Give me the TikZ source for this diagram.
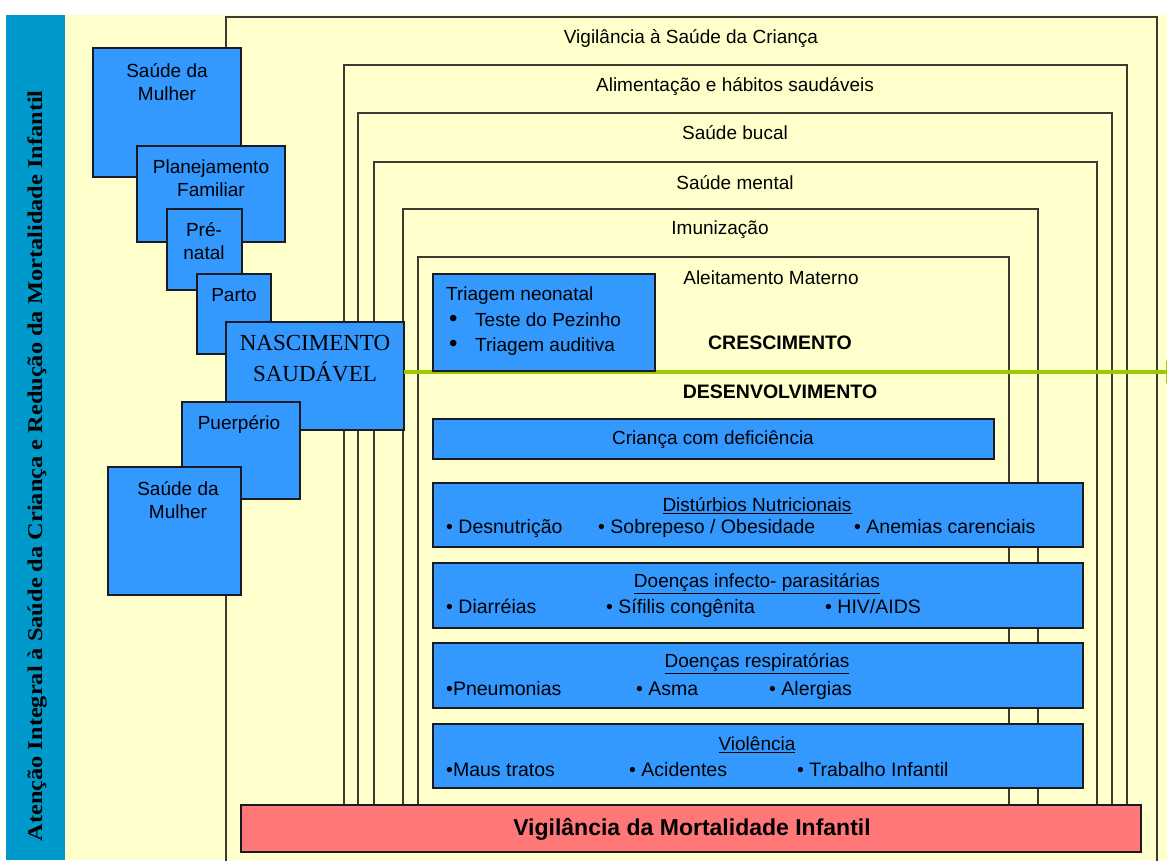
\documentclass[tikz,border=0pt]{standalone}
\usepackage{fontspec}
\setmainfont{Liberation Sans}
\newfontfamily\stripfont[FakeStretch=1.16]{Liberation Serif}
\newfontfamily\nascfont{Liberation Serif}
\usetikzlibrary{arrows.meta}
\definecolor{paper}{HTML}{FFFFCC}
\definecolor{stripblue}{HTML}{0099CC}
\definecolor{boxblue}{HTML}{3399FF}
\definecolor{alertred}{HTML}{FF7777}
\definecolor{growgreen}{HTML}{99CC00}
\definecolor{frameline}{HTML}{3A3A30}
\definecolor{boxline}{HTML}{1A1A22}
\begin{document}
\begin{tikzpicture}[x=1pt,y=-1pt,
  frame/.style={draw=frameline, line width=1.6pt, inner sep=0pt, outer sep=0pt, anchor=north west},
  bluebox/.style={draw=boxline, line width=1.5pt, fill=boxblue, inner sep=0pt, outer sep=0pt, anchor=north west},
  redbox/.style={draw=boxline, line width=1.5pt, fill=alertred, inner sep=0pt, outer sep=0pt, anchor=north west},
  lbl/.style={font=\fontsize{19}{23}\selectfont, align=center, inner sep=0pt},
  heading/.style={font=\bfseries\fontsize{19.5}{23}\selectfont, inner sep=0pt},
  item/.style={font=\fontsize{19.5}{23}\selectfont, anchor=mid west, inner sep=0pt},
  growth/.style={draw=growgreen, line width=4.5pt, -{Triangle[length=14pt,width=22pt]}}
]
\useasboundingbox (0,0) rectangle (1167,860);
\clip (0,0) rectangle (1167,860);

% background, paper area and side strip
\fill[white] (0,0) rectangle (1167,860);
\fill[paper] (65,15) rectangle (1167,860);
\fill[stripblue] (6,15) rectangle (65,860);
\node[rotate=90, anchor=base east, inner sep=0pt,
      font=\stripfont\bfseries\fontsize{21}{21}\selectfont] (striptitle) at (42,90)
  {Atenção Integral à Saúde da Criança e Redução da Mortalidade Infantil};

% nested care frames
\node[frame, minimum width=931pt, minimum height=853pt] (f0) at (226,17) {};
\node[frame, minimum width=783pt, minimum height=775pt] (f1) at (344,65) {};
\node[frame, minimum width=754pt, minimum height=727pt] (f2) at (358,113) {};
\node[frame, minimum width=723pt, minimum height=678pt] (f3) at (374,162) {};
\node[frame, minimum width=635pt, minimum height=631pt] (f4) at (403,209) {};
\node[frame, minimum width=591pt, minimum height=583pt] (f5) at (418,257) {};

\node[lbl] (f0t) at (691,39) {Vigilância à Saúde da Criança};
\node[lbl] (f1t) at (735,87) {Alimentação e hábitos saudáveis};
\node[lbl] (f2t) at (735,133) {Saúde bucal};
\node[lbl] (f3t) at (735,183) {Saúde mental};
\node[lbl] (f4t) at (720,230) {Imunização};
\node[lbl] (f5t) at (771,278) {Aleitamento Materno};
\node[heading] (cresc) at (780,343) {CRESCIMENTO};
\node[heading] (desenv) at (780,392) {DESENVOLVIMENTO};

% life-course boxes on the left
\node[bluebox, minimum width=148pt, minimum height=129pt] (sm1) at (93,48) {};
\node[lbl] (sm1t) at (167,82) {Saúde da\\Mulher};
\node[bluebox, minimum width=148pt, minimum height=96pt] (pf) at (137,146) {};
\node[lbl] (pft) at (211,178) {Planejamento\\Familiar};
\node[bluebox, minimum width=75pt, minimum height=81pt] (pn) at (167,209) {};
\node[lbl] (pnt) at (204,241) {Pré-\\natal};
\node[bluebox, minimum width=74pt, minimum height=80pt] (pa) at (197,274) {};
\node[lbl] (pat) at (234,295) {Parto};
\node[bluebox, minimum width=178pt, minimum height=108pt] (nasc) at (226,322) {};
\node[lbl, font=\nascfont\fontsize{23}{31}\selectfont] (nasct) at (315,359) {NASCIMENTO\\SAUDÁVEL};
\node[bluebox, minimum width=118pt, minimum height=97pt] (pu) at (182,402) {};
\node[lbl] (put) at (239,424) {Puerpério};
\node[bluebox, minimum width=133pt, minimum height=128pt] (sm2) at (108,467) {};
\node[lbl] (sm2t) at (178,500) {Saúde da\\Mulher};

% growth line
\coordinate (gend) at (1180,372);
\draw[growth] (nasc.east |- gend) -- (gend);

% neonatal screening
\node[bluebox, minimum width=222pt, minimum height=97pt] (trg) at (433,274) {};
\node[lbl, align=left, anchor=north west, font=\fontsize{19}{25.5}\selectfont] (trgt) at (446,287)
  {Triagem neonatal\\\hspace*{3pt}\makebox[26pt][l]{\fontsize{24}{24}\selectfont •}Teste do Pezinho\\\hspace*{3pt}\makebox[26pt][l]{\fontsize{24}{24}\selectfont •}Triagem auditiva};

% thematic boxes
\node[bluebox, minimum width=561pt, minimum height=40pt] (cd) at (433,419) {};
\node[lbl] (cdt) at (713,440) {Criança com deficiência};

\node[bluebox, minimum width=650pt, minimum height=64pt] (dn) at (433,483) {};
\node[lbl] (dnt) at (757,506) {\underline{Distúrbios Nutricionais}};
\node[item] (dn1) at (446,531) {• Desnutrição};
\node[item] (dn2) at (598,531) {• Sobrepeso / Obesidade};
\node[item] (dn3) at (854,531) {• Anemias carenciais};

\node[bluebox, minimum width=650pt, minimum height=65pt] (ip) at (433,563) {};
\node[lbl] (ipt) at (757,584) {\underline{Doenças infecto- parasitárias}};
\node[item] (ip1) at (446,611) {• Diarréias};
\node[item] (ip2) at (606,611) {• Sífilis congênita};
\node[item] (ip3) at (825,611) {• HIV/AIDS};

\node[bluebox, minimum width=650pt, minimum height=65pt] (dr) at (433,643) {};
\node[lbl] (drt) at (757,664) {\underline{Doenças respiratórias}};
\node[item] (dr1) at (446,693) {•Pneumonias};
\node[item] (dr2) at (636,693) {• Asma};
\node[item] (dr3) at (769,693) {• Alergias};

\node[bluebox, minimum width=650pt, minimum height=64pt] (vi) at (433,724) {};
\node[lbl] (vit) at (757,745) {\underline{Violência}};
\node[item] (vi1) at (446,774) {•Maus tratos};
\node[item] (vi2) at (629,774) {• Acidentes};
\node[item] (vi3) at (797,774) {• Trabalho Infantil};

% infant mortality surveillance
\node[redbox, minimum width=900pt, minimum height=47pt] (mort) at (241,805) {};
\node[lbl, font=\bfseries\fontsize{23}{27}\selectfont] (mortt) at (692,829) {Vigilância da Mortalidade Infantil};
\end{tikzpicture}
\end{document}
